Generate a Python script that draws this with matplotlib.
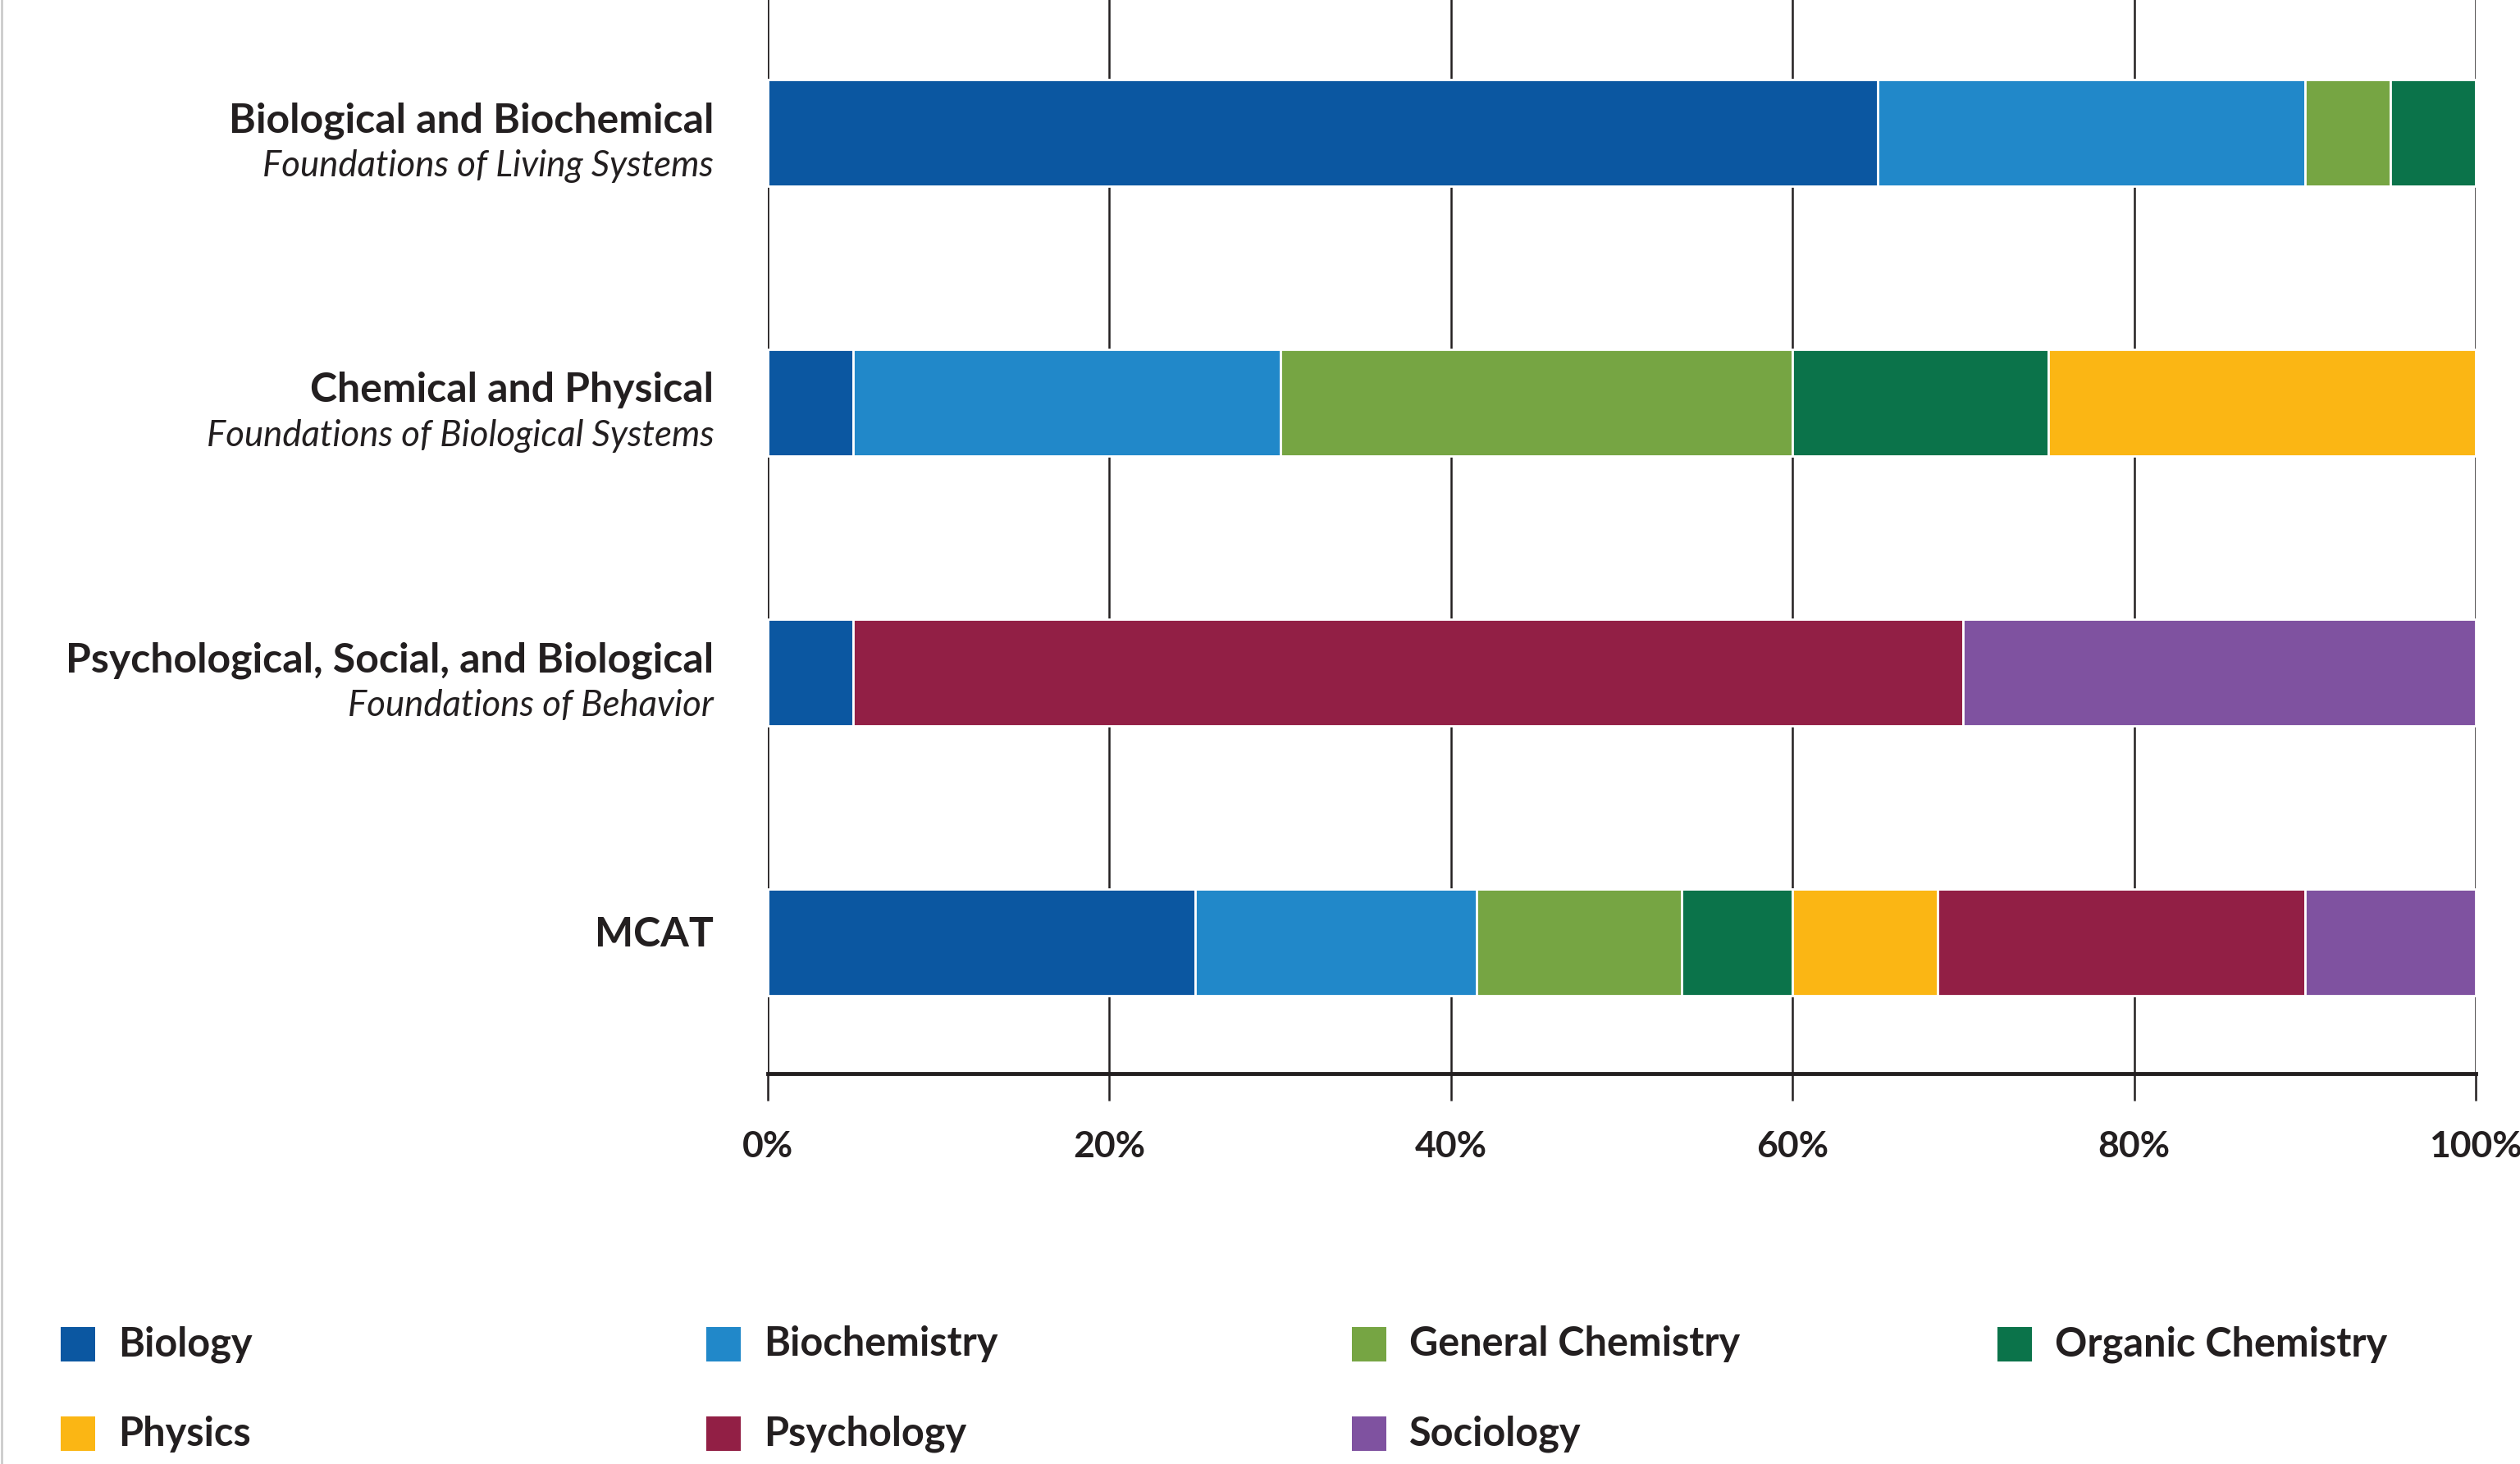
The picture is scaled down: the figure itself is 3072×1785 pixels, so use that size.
import matplotlib
matplotlib.use("Agg")
from matplotlib import pyplot as plt
from matplotlib.patches import Rectangle
from matplotlib.lines import Line2D
import matplotlib.transforms as mtransforms

# Data (share of each discipline, %)
sections = ['Biological and Biochemical', 'Chemical and Physical',
            'Psychological, Social, and Biological', 'MCAT']
subtitles = ['Foundations of Living Systems', 'Foundations of Biological Systems',
             'Foundations of Behavior', '']
disciplines = ['Biology', 'Biochemistry', 'General Chemistry', 'Organic Chemistry',
               'Physics', 'Psychology', 'Sociology']
colors = ['#0b57a1', '#2188c9', '#76a543', '#0b734a', '#fbb614', '#921f45', '#7f52a0']

biology = [65, 5, 5, 25]
biochemistry = [25, 25, 0, 16.5]
general_chemistry = [5, 30, 0, 12]
organic_chemistry = [5, 15, 0, 6.5]
physics = [0, 25, 0, 8.5]
psychology = [0, 0, 65, 21.5]
sociology = [0, 0, 30, 10]
values = [biology, biochemistry, general_chemistry, organic_chemistry,
          physics, psychology, sociology]

xticks = [0, 20, 40, 60, 80, 100]
xticklabels = ['0%', '20%', '40%', '60%', '80%', '100%']

text_color = '#231f20'
plt.rcParams['font.family'] = ['Lato', 'DejaVu Sans']

fig = plt.figure(figsize=(30.72, 17.85), dpi=100)
ax = fig.add_axes([0.3047, 0.2667, 0.9824 - 0.3047, 1 - 0.2667])

# stacked horizontal bars
ypos = list(range(len(sections)))
left = [0] * len(sections)
for vals, col in zip(values, colors):
    ax.barh(ypos, vals, left=left, height=0.395, color=col,
            edgecolor='white', linewidth=2, zorder=3)
    left = [l + v for l, v in zip(left, vals)]

ax.set_xlim(0, 100)
ax.set_ylim(3.486, -0.492)

# vertical grid lines and ticks
ax.set_xticks(xticks)
ax.set_xticklabels(xticklabels, fontsize=32, fontweight='bold', color=text_color)
ax.tick_params(axis='x', direction='out', length=24, width=1.8, color=text_color, pad=26)
ax.xaxis.grid(True, color=text_color, linewidth=1.8, zorder=0)
ax.set_axisbelow(True)
ax.set_yticks([])
for s in ['top', 'left', 'right']:
    ax.spines[s].set_visible(False)
ax.spines['bottom'].set_linewidth(3.5)
ax.spines['bottom'].set_color(text_color)

# category labels on the left
trans = mtransforms.blended_transform_factory(fig.transFigure, ax.transData)
for y, name, sub in zip(ypos, sections, subtitles):
    if sub:
        ax.text(0.2833, y - 0.046, name, transform=trans, ha='right', va='center',
                fontsize=36, fontweight='bold', color=text_color)
        ax.text(0.2833, y + 0.122, sub, transform=trans, ha='right', va='center',
                fontsize=31.5, style='italic', color=text_color)
    else:
        ax.text(0.2833, y - 0.03, name, transform=trans, ha='right', va='center',
                fontsize=36, fontweight='bold', color=text_color)

# legend drawn in two rows of four columns
sq_w, sq_h = 42 / 3072, 42 / 1785
rows_y = [0.0818, 0.0207]
col_dx = 0.2562
for i, (name, col) in enumerate(zip(disciplines, colors)):
    r, c = divmod(i, 4)
    x0 = 74 / 3072 + c * col_dx
    y0 = rows_y[r]
    fig.add_artist(Rectangle((x0, y0 - sq_h / 2), sq_w, sq_h, transform=fig.transFigure,
                             facecolor=col, edgecolor='none'))
    fig.text(x0 + 70 / 3072, y0, name, ha='left', va='center', fontsize=35,
             fontweight='bold', color=text_color)

# thin border on the left edge
fig.add_artist(Line2D([0.0005, 0.0005], [0, 1], transform=fig.transFigure,
                      color='#cccccc', linewidth=2))

fig.savefig('out.png', dpi=100)
